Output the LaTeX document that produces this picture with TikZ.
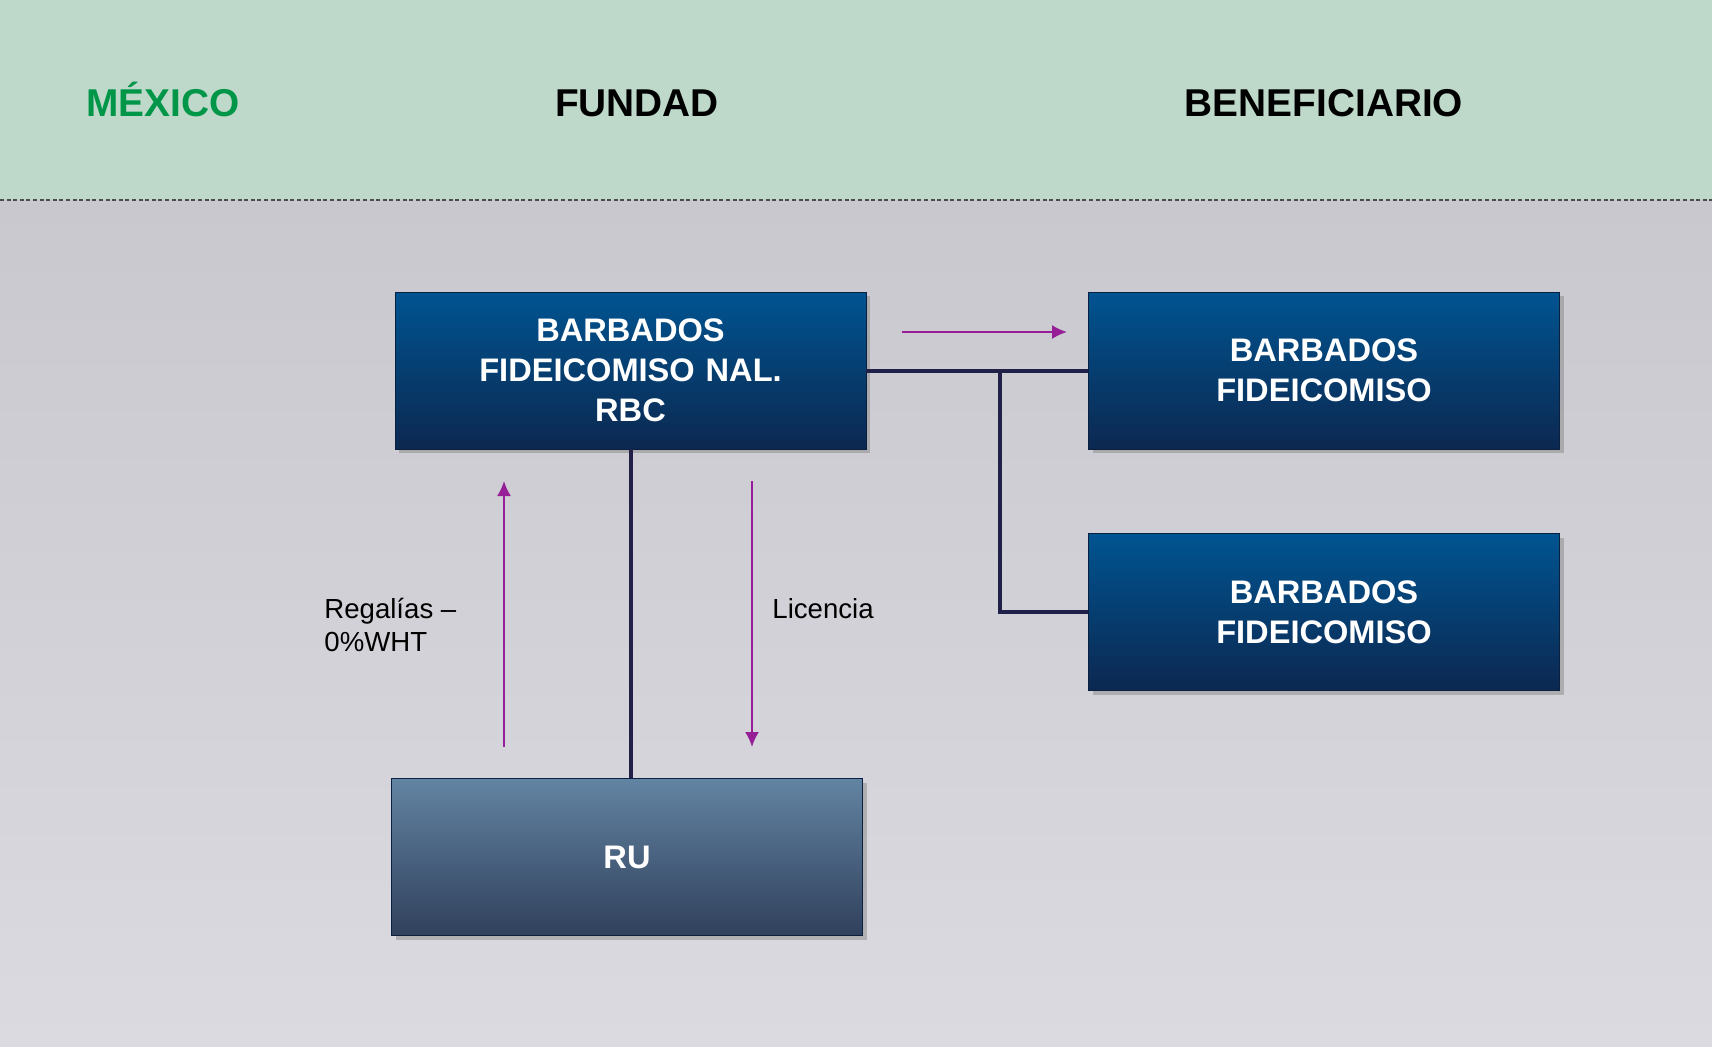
\documentclass[tikz,border=0pt]{standalone}
\usepackage{fontspec}
\setmainfont{Liberation Sans}
\usepackage{tikz}
\usetikzlibrary{shapes,shadows,arrows.meta,positioning}
\definecolor{navytop}{RGB}{0,84,145}
\definecolor{navybot}{RGB}{12,40,80}
\definecolor{rutop}{RGB}{98,132,162}
\definecolor{rubot}{RGB}{48,64,92}
\definecolor{linknavy}{RGB}{32,32,72}
\definecolor{flow}{RGB}{150,30,150}
\definecolor{mexgreen}{RGB}{0,150,72}
\definecolor{bandgreen}{RGB}{190,216,202}
\definecolor{bggray}{RGB}{200,200,206}
\definecolor{bglight}{RGB}{218,218,224}
\tikzstyle{conn} = [draw, linknavy, line width=2pt]
\tikzstyle{flowline} = [draw, flow, line width=1pt, -{Latex[length=7.5pt, width=7pt]}]
\tikzstyle{entity} = [rectangle, draw=navybot!80!black, top color=navytop, bottom color=navybot, text=white, text width=7.5cm, minimum width=235.5pt, minimum height=78.5pt, text centered, font=\fontsize{16.3}{20}\selectfont\bfseries, drop shadow={shadow xshift=2pt, shadow yshift=-2pt, opacity=0.45}]
\tikzstyle{ruentity} = [entity, top color=rutop, bottom color=rubot]
\tikzstyle{header} = [anchor=base, font=\fontsize{19.4}{24}\selectfont\bfseries]
\tikzstyle{flowlabel} = [align=left, font=\fontsize{13.8}{16.5}\selectfont, inner sep=0pt]

\begin{document}
\begin{tikzpicture}[x=0.5pt, y=-0.5pt]
	\useasboundingbox (0,0) rectangle (1712,1046);
	% background
	\fill [bandgreen] (0,0) rectangle (1712,200);
	\shade [top color=bggray, bottom color=bglight] (0,200) rectangle (1712,1046);
	\draw [black!70, line width=0.7pt, dash pattern=on 2pt off 1.3pt] (0,200) -- (1712,200);
	
	\node [header, text=mexgreen] (mexico) at (163,116) {MÉXICO};
	\node [header] (fundad) at (637,116) {FUNDAD};
	\node [header] (benef) at (1324,116) {BENEFICIARIO};
	
	\node [entity] (fidnal) at (630.5,370.5) {BARBADOS\\ FIDEICOMISO NAL.\\ RBC};
	\node [entity, right of=fidnal, node distance=346.75pt] (fidA) {BARBADOS\\ FIDEICOMISO};
	\node [entity, below of=fidA, node distance=120.75pt] (fidB) {BARBADOS\\ FIDEICOMISO};
	\node [ruentity, below of=fidnal, node distance=243.25pt, xshift=-1.75pt] (ru) {RU};
	
	\path [conn] (fidnal.south) -- (fidnal.south |- ru.north);
	\path [conn] (fidnal.east) -- (fidA.west);
	\coordinate (branch) at (1000,370.5);
	\path [conn] (branch) |- (fidB.west);
	
	\coordinate (royfrom) at (504,747);
	\coordinate (royto) at (504,481);
	\coordinate (licfrom) at (752,481);
	\coordinate (licto) at (752,747);
	\coordinate (payfrom) at (902,332);
	\coordinate (payto) at (1067,332);
	\path [flowline] (royfrom) -- (royto);
	\path [flowline] (licfrom) -- (licto);
	\path [flowline] (payfrom) -- (payto);
	
	\node [flowlabel, anchor=west] (regalias) at (324,625) {Regalías –\\0\%WHT};
	\node [flowlabel, anchor=west] (licencia) at (772,609) {Licencia};
\end{tikzpicture}
\end{document}
